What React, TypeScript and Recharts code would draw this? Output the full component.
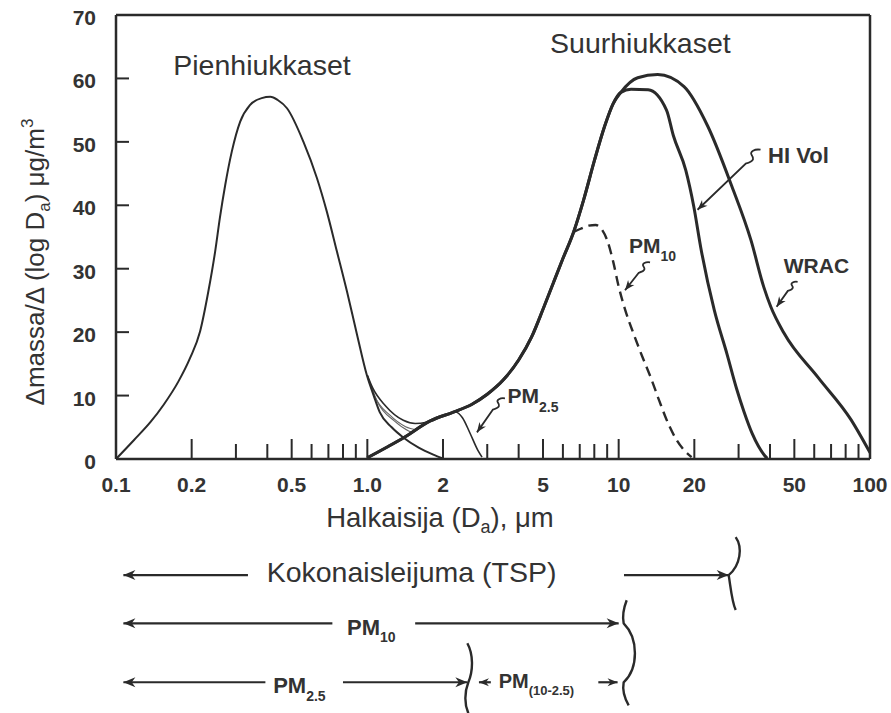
import React from 'react';
import { LineChart, Line, XAxis, YAxis, ReferenceLine, ReferenceDot } from 'recharts';

// ---------- data (diameter µm, Δmass/Δlog D µg/m³) ----------
const fineD = [0.1, 0.118, 0.137, 0.155, 0.177, 0.197, 0.216, 0.233, 0.248, 0.259, 0.272, 0.289, 0.312, 0.341, 0.38, 0.411, 0.44, 0.479, 0.557, 0.63, 0.69, 0.757, 0.83, 0.91, 0.996, 1.06, 1.12, 1.25, 1.39, 1.6, 1.83, 2.0];
const fineM = [0, 3.0, 5.8, 8.6, 12.2, 15.9, 20.1, 26.4, 32.7, 38, 43.2, 48.5, 53.2, 55.8, 56.9, 57.1, 56.6, 55.3, 50, 44.3, 39, 32.7, 26.4, 19.6, 13.2, 10.0, 7.4, 5.0, 3.4, 1.8, 0.7, 0.1];

const coarseD = [1.0, 1.2, 1.4, 1.78, 2.2, 2.6, 3.0, 3.5, 4.0, 4.5, 5.0, 5.5, 6.0, 6.62, 7.26, 8.0, 8.8, 9.5, 10.2];
const coarseM = [0.2, 1.9, 3.4, 6.0, 7.4, 8.6, 10.2, 12.6, 15.6, 19.2, 23.6, 27.8, 31.6, 35.8, 40.9, 47, 52.5, 56, 57.8];

const hiVolD = [11.2, 13.1, 15.5, 16.5, 18.5, 19.9, 21.2, 24, 27, 29.5, 31.5, 34, 36, 38, 39];
const hiVolM = [58.3, 58.2, 55, 51, 45.5, 39.8, 33.4, 23.5, 16.5, 11, 7.5, 4, 2, 0.6, 0.1];

const wracD = [11.9, 14.3, 18.2, 22.6, 28.2, 33.6, 37.8, 40.3, 45.4, 62, 84, 100];
const wracM = [60.1, 60.6, 58.7, 52.5, 43, 34.5, 27.1, 24, 19.9, 12.9, 6.2, 1];

const pm10D = [6.62, 7.06, 7.6, 8.1, 8.6, 9.0, 9.5, 10.0, 10.6, 11.5, 12.4, 13.4, 14.5, 15.7, 17.0, 18.2, 19.5];
const pm10M = [35.8, 36.3, 36.8, 36.9, 36.1, 34.5, 31.2, 27.2, 23.6, 19.6, 16.2, 12.9, 9.2, 5.7, 3.0, 1.4, 0.3];

const pm25D = [1.0, 1.05, 1.18, 1.39, 1.55, 1.72, 1.78, 2.0, 2.24, 2.39, 2.56, 2.75, 2.86];
const pm25M = [13.2, 11.2, 8.4, 6.1, 5.6, 5.8, 6.0, 6.8, 7.4, 6.5, 4.1, 1.4, 0.3];

const fanAD = [1.0, 1.07, 1.23, 1.42, 1.58];
const fanAM = [13.2, 9.9, 6.9, 5.1, 4.6];
const fanBD = [1.0, 1.1, 1.28, 1.46, 1.52];
const fanBM = [13.2, 8.9, 6.0, 4.4, 4.1];

const xTicks = [0.1, 0.2, 0.3, 0.4, 0.5, 0.6, 0.7, 0.8, 0.9, 1, 2, 3, 4, 5, 6, 7, 8, 9, 10, 20, 30, 40, 50, 60, 70, 80, 90, 100];
const xLabelValues = [0.1, 0.2, 0.5, 1, 2, 5, 10, 20, 50, 100];
const xLabelTexts = ['0.1', '0.2', '0.5', '1.0', '2', '5', '10', '20', '50', '100'];
const yTicks = [0, 10, 20, 30, 40, 50, 60, 70];
const yRightTicks = [10, 20, 30, 40, 50, 60];

const zip = (d: number[], m: number[]) => d.map((v, i) => ({ d: v, m: m[i] }));
const fine = zip(fineD, fineM);
const coarse = zip(coarseD, coarseM);
const hiVol = [...coarse, ...zip(hiVolD, hiVolM)];
const wrac = [...coarse, ...zip(wracD, wracM)];
const pm10 = zip(pm10D, pm10M);
const pm25 = zip(pm25D, pm25M);
const fanA = zip(fanAD, fanAM);
const fanB = zip(fanBD, fanBM);

// ---------- styling ----------
const FONT = '"Liberation Sans", Arial, Helvetica, sans-serif';
const INK = '#2a2a2a';
const TXT = '#333333';
const PAGE_CSS = 'body { margin: 8px 0 0 8px; } .recharts-wrapper, .recharts-surface { overflow: visible !important; }';

const near = (a: number, b: number) => Math.abs(a - b) / b < 1e-6;

const XTick = (p: any) => {
  const { x, y, payload } = p;
  const v = payload.value;
  const idx = xLabelValues.findIndex((t) => near(v, t));
  const edge = near(v, 0.1) || near(v, 100);
  const len = idx >= 0 ? 20 : 15;
  return (
    <g>
      {!edge && <line x1={x} x2={x} y1={y} y2={y - len} stroke={INK} strokeWidth={2} />}
      {idx >= 0 && (
        <text x={x} y={y + 33} textAnchor="middle" fontSize={21} fontWeight={700} fill={TXT} fontFamily={FONT}>
          {xLabelTexts[idx]}
        </text>
      )}
    </g>
  );
};

const YTick = (p: any) => {
  const { x, y, payload } = p;
  const v = payload.value;
  return (
    <g>
      {v > 0 && v < 70 && <line x1={x} x2={x + 13} y1={y} y2={y} stroke={INK} strokeWidth={2} />}
      <text x={x - 20} y={y + 10} textAnchor="end" fontSize={21} fontWeight={700} fill={TXT} fontFamily={FONT}>
        {v}
      </text>
    </g>
  );
};

const YRightTick = (p: any) => {
  const { x, y } = p;
  return <line x1={x} x2={x - 13} y1={y} y2={y} stroke={INK} strokeWidth={2} />;
};

const YLabel = (p: any) => {
  const vb = p.viewBox || { x: 0, y: 0, width: 0, height: 0 };
  const x = vb.x - 12;
  const y = vb.y + vb.height / 2 + 25;
  return (
    <text x={x} y={y} transform={`rotate(-90 ${x} ${y})`} textAnchor="middle" fontSize={26} fill={TXT} fontFamily={FONT}>
      Δmassa/Δ (log D<tspan fontSize={17} dy={6}>a</tspan>
      <tspan dy={-6}>) μg/m</tspan>
      <tspan fontSize={17} dy={-11}>3</tspan>
    </text>
  );
};

const XLabel = (p: any) => {
  const vb = p.viewBox || { x: 0, y: 0, width: 0, height: 0 };
  const x = vb.x + vb.width / 2 - 53;
  const y = vb.y + 68;
  return (
    <text x={x} y={y} textAnchor="middle" fontSize={27.5} fill={TXT} fontFamily={FONT}>
      Halkaisija (D<tspan fontSize={18} dy={6}>a</tspan>
      <tspan dy={-6}>), μm</tspan>
    </text>
  );
};

const textShape = (content: React.ReactNode, size: number, weight = 400, anchor: 'start' | 'middle' | 'end' = 'start') =>
  (p: any) => (
    <text x={p.cx} y={p.cy} fontSize={size} fontWeight={weight} textAnchor={anchor} fill={TXT} fontFamily={FONT}>
      {content}
    </text>
  );

const head = (tx: number, ty: number, fx: number, fy: number, len = 12, hw = 5) => {
  const dx = tx - fx, dy = ty - fy;
  const L = Math.hypot(dx, dy) || 1;
  const ux = dx / L, uy = dy / L;
  const bx = tx - ux * len, by = ty - uy * len;
  const nx = -uy, ny = ux;
  const mx = tx - ux * len * 0.7, my = ty - uy * len * 0.7;
  return `M${tx},${ty} L${bx + nx * hw},${by + ny * hw} L${mx},${my} L${bx - nx * hw},${by - ny * hw} Z`;
};

// Squiggle pointer; anchor = arrow tip, (sx, sy) = offset to start near the label
const squiggle = (sx: number, sy: number, k = 1) => (p: any) => {
  const { cx, cy } = p;
  const x0 = cx + sx, y0 = cy + sy;
  const ex = x0 - 15 * k, ey = y0 + 14 * k;
  const d = `M${x0},${y0} c${-6 * k},${-1 * k} ${-11 * k},${2 * k} ${-9 * k},${5 * k} c${2 * k},${3 * k} ${4 * k},${6 * k} ${-6 * k},${9 * k} L${cx},${cy}`;
  return (
    <g>
      <path d={d} fill="none" stroke={INK} strokeWidth={1.8} />
      <path d={head(cx, cy, ex, ey, 10, 4)} fill={INK} />
    </g>
  );
};

const arrowLine = (len = 12, hw = 5) => (p: any) => {
  const { x1, y1, x2, y2 } = p;
  return (
    <g>
      <line x1={x1} y1={y1} x2={x2} y2={y2} stroke={INK} strokeWidth={2.2} />
      <path d={head(x2, y2, x1, y1, len, hw)} fill={INK} />
    </g>
  );
};

const braceShape = (d: string) => (p: any) => (
  <path d={d} transform={`translate(${p.cx},${p.cy})`} fill="none" stroke={INK} strokeWidth={2.4} />
);

// annotation anchors (data coordinates)
const rowTSP = -18.3;
const rowPM10 = -25.9;
const rowPM25 = -35.2;

export default function App() {
  return (
    <>
      <style>{PAGE_CSS}</style>
      <LineChart width={883} height={705} margin={{ top: 7, right: 11, left: 48, bottom: 194 }} style={{ fontFamily: FONT }}>
        <XAxis
          dataKey="d"
          type="number"
          scale="log"
          domain={[0.1, 100]}
          allowDataOverflow
          ticks={xTicks}
          interval={0}
          tickSize={0}
          tickMargin={0}
          tickLine={false}
          tick={<XTick />}
          height={60}
          axisLine={{ stroke: INK, strokeWidth: 2.5 }}
          label={<XLabel />}
        />
        <YAxis
          type="number"
          domain={[0, 70]}
          ticks={yTicks}
          interval={0}
          width={60}
          tickSize={0}
          tickMargin={0}
          tickLine={false}
          tick={<YTick />}
          axisLine={{ stroke: INK, strokeWidth: 2.5 }}
          label={<YLabel />}
        />
        <YAxis
          yAxisId="right"
          orientation="right"
          type="number"
          domain={[0, 70]}
          ticks={yRightTicks}
          interval={0}
          width={10}
          tickSize={0}
          tickMargin={0}
          tickLine={false}
          tick={<YRightTick />}
          axisLine={{ stroke: INK, strokeWidth: 2.5 }}
        />
        <ReferenceLine y={70} stroke={INK} strokeWidth={2.5} />

        <Line data={fanA} dataKey="m" type="monotone" dot={false} stroke="#666" strokeWidth={1.1} isAnimationActive={false} />
        <Line data={fanB} dataKey="m" type="monotone" dot={false} stroke="#666" strokeWidth={1.1} isAnimationActive={false} />
        <Line data={fine} dataKey="m" type="monotone" dot={false} stroke={INK} strokeWidth={2} isAnimationActive={false} />
        <Line data={pm25} dataKey="m" type="monotone" dot={false} stroke={INK} strokeWidth={1.6} isAnimationActive={false} />
        <Line data={pm10} dataKey="m" type="monotone" dot={false} stroke={INK} strokeWidth={2.4} strokeDasharray="10 6" isAnimationActive={false} />
        <Line data={hiVol} dataKey="m" type="monotone" dot={false} stroke={INK} strokeWidth={3} isAnimationActive={false} />
        <Line data={wrac} dataKey="m" type="monotone" dot={false} stroke={INK} strokeWidth={3} isAnimationActive={false} />

        {/* curve labels */}
        <ReferenceDot x={0.381} y={60.6} ifOverflow="visible" shape={textShape('Pienhiukkaset', 28.5, 400, 'middle')} />
        <ReferenceDot x={12.2} y={64.0} ifOverflow="visible" shape={textShape('Suurhiukkaset', 28.5, 400, 'middle')} />
        <ReferenceDot x={39.3} y={46.7} ifOverflow="visible" shape={textShape('HI Vol', 22, 700)} />
        <ReferenceDot x={45.4} y={29.3} ifOverflow="visible" shape={textShape('WRAC', 21, 700)} />
        <ReferenceDot x={11.0} y={32.5} ifOverflow="visible" shape={textShape(<>PM<tspan fontSize={14} dy={8}>10</tspan></>, 21, 700)} />
        <ReferenceDot x={3.61} y={8.8} ifOverflow="visible" shape={textShape(<>PM<tspan fontSize={14} dy={9}>2.5</tspan></>, 21, 700)} />

        {/* pointer arrows */}
        <ReferenceDot x={20.6} y={39.3} ifOverflow="visible" shape={squiggle(63, -60)} />
        <ReferenceDot x={10.6} y={26.6} ifOverflow="visible" shape={squiggle(25, -28, 0.75)} />
        <ReferenceDot x={2.73} y={4.2} ifOverflow="visible" shape={squiggle(28, -34, 0.8)} />
        <ReferenceDot x={42.5} y={24} ifOverflow="visible" shape={squiggle(21, -25, 0.65)} />

        {/* size-range arrows below the axis */}
        <ReferenceLine ifOverflow="visible" segment={[{ x: 0.335, y: rowTSP }, { x: 0.107, y: rowTSP }]} shape={arrowLine()} />
        <ReferenceLine ifOverflow="visible" segment={[{ x: 10.5, y: rowTSP }, { x: 27.4, y: rowTSP }]} shape={arrowLine()} />
        <ReferenceDot x={1.5} y={-19.4} ifOverflow="visible" shape={textShape('Kokonaisleijuma (TSP)', 28.5, 400, 'middle')} />
        <ReferenceDot x={27.4} y={rowTSP} ifOverflow="visible" shape={braceShape('M7,-38 C14,-28 12,-10 0,0 C2,12 3,26 7,35')} />

        <ReferenceLine ifOverflow="visible" segment={[{ x: 0.726, y: rowPM10 }, { x: 0.107, y: rowPM10 }]} shape={arrowLine()} />
        <ReferenceLine ifOverflow="visible" segment={[{ x: 1.55, y: rowPM10 }, { x: 10, y: rowPM10 }]} shape={arrowLine()} />
        <ReferenceDot x={0.83} y={-27.8} ifOverflow="visible" shape={textShape(<>PM<tspan fontSize={14} dy={7}>10</tspan></>, 22, 700)} />
        <ReferenceDot x={10} y={rowPM10} ifOverflow="visible" shape={braceShape('M8,-23 Q3,-10 5,0 C20,15 20,45 5,59 Q3,70 10,82')} />

        <ReferenceLine ifOverflow="visible" segment={[{ x: 0.393, y: rowPM25 }, { x: 0.107, y: rowPM25 }]} shape={arrowLine()} />
        <ReferenceLine ifOverflow="visible" segment={[{ x: 0.8, y: rowPM25 }, { x: 2.5, y: rowPM25 }]} shape={arrowLine()} />
        <ReferenceDot x={0.422} y={-36.9} ifOverflow="visible" shape={textShape(<>PM<tspan fontSize={14} dy={8}>2.5</tspan></>, 22, 700)} />
        <ReferenceDot x={2.5} y={rowPM25} ifOverflow="visible" shape={braceShape('M0,-39 C6,-28 6,-12 1,0 C-3,10 -3,22 1,31')} />

        <ReferenceLine ifOverflow="visible" segment={[{ x: 3.1, y: rowPM25 }, { x: 2.78, y: rowPM25 }]} shape={arrowLine(10, 4)} />
        <ReferenceLine ifOverflow="visible" segment={[{ x: 8.3, y: rowPM25 }, { x: 9.9, y: rowPM25 }]} shape={arrowLine(10, 4)} />
        <ReferenceDot x={3.33} y={-36.1} ifOverflow="visible" shape={textShape(<>PM<tspan fontSize={13} dy={7}>(10-2.5)</tspan></>, 20, 700)} />
      </LineChart>
    </>
  );
}
